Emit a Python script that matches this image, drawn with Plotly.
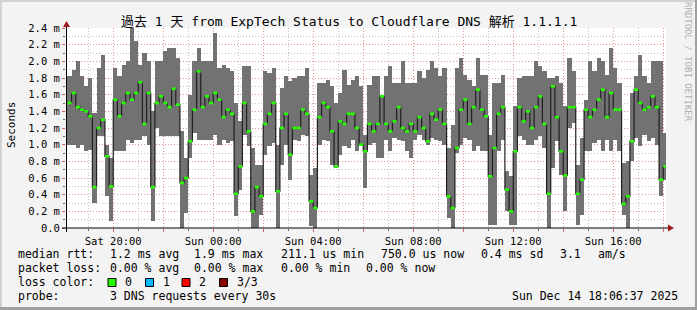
import plotly.graph_objects as go
import pandas as pd

# ---------------- data (milliseconds), 10-minute consolidated steps ----------------
start_time = "2025-12-13 18:10:00"
step_minutes = 10

rtt_max = [1.82, 1.9, 2.0, 1.82, 1.7, 1.8, 1.38, 1.92, 2.08, 1.0, 0.84, 1.92,
           1.82, 1.96, 2.0, 2.4, 2.24, 1.96, 2.1, 2.0, 1.4, 2.0, 2.0, 2.12,
           2.16, 2.16, 2.04, 1.16, 0.84, 1.6, 2.0, 2.16, 2.0, 2.0, 2.0, 2.34,
           1.92, 1.96, 1.92, 1.88, 1.5, 1.28, 1.94, 1.94, 0.96, 0.76, 0.76, 1.88,
           1.86, 1.92, 1.0, 1.68, 1.82, 1.76, 1.8, 1.82, 1.82, 1.92, 0.64, 0.72,
           1.74, 1.74, 1.78, 1.7, 1.5, 1.62, 1.9, 1.72, 1.78, 1.82, 1.7, 1.12,
           1.72, 1.82, 1.82, 1.6, 1.82, 1.94, 1.74, 1.74, 2.0, 1.74, 1.74, 1.74,
           1.88, 1.8, 1.9, 2.0, 1.92, 1.82, 1.92, 0.96, 1.24, 1.92, 2.04, 1.84,
           1.78, 1.7, 2.04, 1.84, 1.84, 1.12, 1.74, 1.74, 1.84, 0.68, 0.62, 1.46,
           1.8, 1.82, 1.82, 1.82, 2.0, 1.94, 1.88, 1.8, 1.8, 1.82, 1.74, 1.46,
           2.04, 1.88, 0.76, 1.08, 1.54, 2.0, 1.88, 2.04, 2.0, 1.84, 2.16, 1.92,
           1.74, 0.78, 0.8, 1.62, 1.82, 2.08, 1.82, 1.74, 2.0, 2.0, 2.0, 1.14]

rtt_min = [1.0, 1.0, 0.96, 1.0, 0.92, 0.94, 0.3, 1.1, 1.1, 0.38, 0.08, 0.92,
           0.92, 0.92, 1.06, 1.02, 1.06, 1.06, 1.1, 1.0, 0.08, 1.2, 1.1, 1.1,
           1.1, 1.1, 1.1, 0.0, 0.18, 0.84, 1.14, 1.06, 1.06, 1.06, 1.06, 1.12,
           1.0, 1.06, 1.02, 1.04, 0.15, 0.46, 1.12, 0.98, 0.0, 0.0, 0.16, 0.88,
           0.98, 1.02, 0.0, 0.76, 1.0, 0.58, 1.06, 1.04, 1.12, 1.1, 0.02, 0.0,
           1.0, 1.06, 1.04, 0.76, 0.72, 0.88, 0.98, 0.96, 1.06, 0.92, 0.98, 0.48,
           1.0, 1.02, 0.84, 0.84, 1.06, 0.92, 1.08, 1.06, 1.04, 0.92, 0.84, 1.06,
           1.12, 1.06, 1.0, 1.08, 1.06, 1.04, 1.0, 0.12, 0.0, 0.9, 1.0, 1.08,
           1.06, 0.92, 0.98, 0.92, 0.92, 0.04, 0.04, 0.92, 1.06, 0.2, 0.04, 0.04,
           1.1, 1.06, 1.0, 1.0, 1.06, 1.1, 0.96, 0.0, 0.72, 1.04, 0.64, 0.2,
           1.2, 1.26, 0.04, 0.16, 0.92, 0.92, 1.02, 1.06, 0.92, 1.06, 0.92, 1.06,
           0.92, 0.16, 0.0, 0.8, 1.08, 0.98, 1.12, 1.04, 1.08, 1.0, 0.38, 0.58]

rtt_median = [1.5, 1.62, 1.45, 1.42, 1.4, 1.34, 0.49, 1.2, 1.3, 0.86, 0.5, 1.54,
              1.34, 1.5, 1.62, 1.54, 1.62, 1.75, 1.25, 1.62, 0.49, 1.5, 1.58, 1.5,
              1.45, 1.67, 1.48, 0.54, 0.6, 1.04, 1.42, 1.88, 1.45, 1.58, 1.5, 1.62,
              1.54, 1.33, 1.42, 1.37, 0.41, 0.74, 1.5, 1.16, 0.2, 0.49, 0.38, 1.25,
              1.37, 1.5, 0.44, 1.2, 1.37, 0.88, 1.2, 1.2, 1.42, 1.37, 0.32, 0.24,
              1.33, 1.5, 1.45, 1.16, 0.74, 1.28, 1.25, 1.37, 1.37, 1.2, 1.0, 0.92,
              1.25, 1.16, 1.25, 1.58, 1.25, 1.16, 1.28, 1.45, 1.2, 1.16, 1.25, 1.16,
              1.33, 1.2, 1.04, 1.37, 1.3, 1.42, 1.25, 0.38, 0.24, 0.96, 1.42, 1.54,
              1.25, 1.45, 1.66, 1.42, 1.34, 0.62, 0.96, 1.37, 1.45, 0.46, 0.2, 0.92,
              1.45, 1.28, 1.4, 1.2, 1.45, 1.58, 1.25, 0.41, 1.7, 1.33, 0.92, 0.63,
              1.45, 1.45, 0.41, 0.58, 1.42, 1.33, 1.42, 1.54, 1.66, 1.33, 1.62, 1.42,
              1.42, 0.29, 0.38, 1.04, 1.66, 1.5, 1.42, 1.45, 1.58, 1.45, 0.58, 0.74]

y_tick_values = [0.0, 0.2, 0.4, 0.6, 0.8, 1.0, 1.2, 1.4, 1.6, 1.8, 2.0, 2.2, 2.4]
y_tick_labels = ["0.0", "0.2 m", "0.4 m", "0.6 m", "0.8 m", "1.0 m", "1.2 m",
                 "1.4 m", "1.6 m", "1.8 m", "2.0 m", "2.2 m", "2.4 m"]
x_tick_labels = ["Sat 20:00", "", "Sun 00:00", "", "Sun 04:00", "", "Sun 08:00", "",
                 "Sun 12:00", "", "Sun 16:00", ""]

title_text = "過去 1 天 from ExpTech Status to Cloudflare DNS 解析 1.1.1.1"
stats_row1 = [("median rtt:", 16), ("1.2 ms avg", 107.6), ("1.9 ms max", 192.4),
              ("211.1 us min", 279), ("750.0 us now", 379), ("0.4 ms sd", 479),
              ("3.1", 557.8), ("am/s", 595.6)]
stats_row2 = [("packet loss:", 16), ("0.00 % avg", 107.6), ("0.00 % max", 192.4),
              ("0.00 % min", 279), ("0.00 % now", 364.4)]
loss_labels = ["0", "1", "2", "3/3"]
loss_colors = ["#26ff00", "#00b8ff", "#ff0000", "#8b0000"]
probe_text = "3 DNS requests every 30s"
stamp_text = "Sun Dec 14 18:06:37 2025"

# ---------------- geometry helpers ----------------
W, H = 697, 310
L, R, T, B = 66, 31, 28, 82
PW, PH = W - L - R, H - T - B


def px(x):
    return (x - L) / PW


def py(y):
    return (H - B - y) / PH


step = pd.Timedelta(minutes=step_minutes)
starts = pd.date_range(start_time, periods=len(rtt_max), freq=f"{step_minutes}min")
centers = starts + step / 2
ends = starts + step

fig = go.Figure()

# smoke (min..max)
fig.add_trace(go.Bar(
    x=centers, y=[a - b for a, b in zip(rtt_max, rtt_min)], base=rtt_min,
    width=step / pd.Timedelta(milliseconds=1),
    marker=dict(color="#727272", line=dict(width=0)), hoverinfo="skip"))

# median step line (dark)
step_x = list(starts) + [ends[-1]]
step_y = list(rtt_median) + [rtt_median[-1]]
fig.add_trace(go.Scatter(x=step_x, y=step_y, mode="lines", line_shape="hv",
                         line=dict(color="#202020", width=1.2), hoverinfo="skip"))

# loss-coloured median segments
gx, gy = [], []
for s, e, m in zip(starts, ends, rtt_median):
    gx += [s, e, None]
    gy += [m, m, None]
fig.add_trace(go.Scatter(x=gx, y=gy, mode="lines",
                         line=dict(color=loss_colors[0], width=2.6), hoverinfo="skip"))

mono = "DejaVu Sans Mono"
x_start = pd.Timestamp("2025-12-14 18:06:37") - pd.Timedelta(days=1)
x_end = pd.Timestamp("2025-12-14 18:06:37")
x_tick_vals = pd.date_range("2025-12-13 20:00", periods=12, freq="2h")

major_grid = "rgba(235,140,140,0.85)"
minor_grid = "rgba(170,170,170,0.7)"
dots = "1px,2px"

fig.update_layout(
    width=W, height=H, margin=dict(l=L, r=R, t=T, b=B, pad=0),
    paper_bgcolor="#f3f3f3", plot_bgcolor="#ffffff", showlegend=False,
    bargap=0, font=dict(family=mono, size=10, color="#000000"),
)
fig.update_xaxes(
    type="date", range=[x_start, x_end], tickvals=x_tick_vals, ticktext=x_tick_labels,
    showgrid=True, gridcolor=major_grid, griddash=dots, gridwidth=1,
    ticks="outside", ticklen=3, tickcolor="rgba(220,90,90,0.9)",
    tickfont=dict(family=mono, size=10.5, color="#000"),
    minor=dict(dtick=3600000, showgrid=True, gridcolor=minor_grid,
               griddash=dots, ticks="outside", ticklen=2, tickcolor="#666"),
    showline=False, zeroline=False, fixedrange=True,
)
fig.update_yaxes(
    range=[0, 2.4], tickvals=y_tick_values, ticktext=y_tick_labels,
    showgrid=True, gridcolor=major_grid, griddash=dots, gridwidth=1,
    ticks="outside", ticklen=3, tickcolor="rgba(220,90,90,0.9)",
    tickfont=dict(family=mono, size=10.5, color="#000"),
    minor=dict(dtick=0.1, tick0=0, showgrid=True, gridcolor=minor_grid,
               griddash=dots, ticks="outside", ticklen=2, tickcolor="#666"),
    showline=False, zeroline=False, fixedrange=True,
)

shapes = []
# axis lines with arrows
shapes.append(dict(type="line", xref="paper", yref="paper", x0=px(62), x1=px(669),
                   y0=py(228), y1=py(228), line=dict(color="#000", width=1)))
shapes.append(dict(type="line", xref="paper", yref="paper", x0=px(66.5), x1=px(66.5),
                   y0=py(232), y1=py(25), line=dict(color="#000", width=1)))
shapes.append(dict(type="path", xref="paper", yref="paper",
                   path=f"M {px(668)} {py(224.5)} L {px(674)} {py(228)} L {px(668)} {py(231.5)} Z",
                   fillcolor="#a01818", line=dict(width=0)))
shapes.append(dict(type="path", xref="paper", yref="paper",
                   path=f"M {px(63)} {py(27)} L {px(66.5)} {py(21)} L {px(70)} {py(27)} Z",
                   fillcolor="#a01818", line=dict(width=0)))
# frame (3d shade)
shapes.append(dict(type="rect", xref="paper", yref="paper", x0=px(0), x1=px(697),
                   y0=py(0), y1=py(2), fillcolor="#d2d2d2", line=dict(width=0)))
shapes.append(dict(type="rect", xref="paper", yref="paper", x0=px(0), x1=px(2),
                   y0=py(0), y1=py(310), fillcolor="#d2d2d2", line=dict(width=0)))
shapes.append(dict(type="rect", xref="paper", yref="paper", x0=px(695), x1=px(697),
                   y0=py(0), y1=py(310), fillcolor="#a0a0a0", line=dict(width=0)))
shapes.append(dict(type="rect", xref="paper", yref="paper", x0=px(0), x1=px(697),
                   y0=py(307), y1=py(310), fillcolor="#a0a0a0", line=dict(width=0)))
# loss colour boxes
box_x = [108, 145.5, 182, 219.5]
for bx, c in zip(box_x, loss_colors):
    shapes.append(dict(type="rect", xref="paper", yref="paper", x0=px(bx), x1=px(bx + 8),
                       y0=py(278.5), y1=py(286.5), fillcolor=c,
                       line=dict(color="#000", width=1)))
fig.update_layout(shapes=shapes)

ann = []


def text(t, x, y, size=11.5, anchor="left", color="#000", angle=0):
    ann.append(dict(text=t, xref="paper", yref="paper", x=px(x), y=py(y),
                    xanchor=anchor, yanchor="middle", showarrow=False, textangle=angle,
                    font=dict(family=mono + ", Noto Sans CJK SC", size=size, color=color)))


text(title_text, 348.5, 21, size=13, anchor="center")
text("Seconds", 11, 125, size=11, anchor="center", angle=-90)
text("RRDTOOL / TOBI OETIKER", 688, 62, size=9, anchor="center", color="#b0b0b0", angle=90)
for t, x in stats_row1:
    text(t, x, 254)
for t, x in stats_row2:
    text(t, x, 268)
text("loss color:", 16, 282)
for lab, bx in zip(loss_labels, box_x):
    text(lab, bx + 15, 282)
text("probe:", 16, 296)
text(probe_text, 107.6, 296)
text(stamp_text, 680, 296, anchor="right")
fig.update_layout(annotations=ann)

fig.write_html("out.html")
